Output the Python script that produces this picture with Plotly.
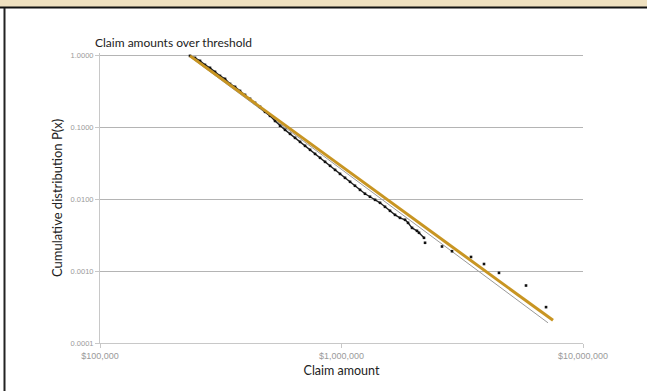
import plotly.graph_objects as go

# Claims above the threshold: amount and empirical cumulative share P(X >= x)
# Dense body of the distribution
body_amounts = [
    235900, 247400, 259500, 272100, 285400, 299400, 314000, 329400, 345500,
    362400, 380000, 398600, 418100, 438500, 459900, 482400, 505900, 530700,
    556600, 583800, 612300, 642200, 673600, 706500, 741000, 777200, 815200,
    855000, 896800, 940600, 985800, 1034000, 1085000, 1137000, 1193000,
    1251000, 1312000, 1377000, 1444000, 1514000, 1588000, 1666000, 1747000,
    1833000, 1886000, 1959000, 2054000, 2094000, 2196000,
]
body_p = [
    1.0, 0.938, 0.852, 0.749, 0.681, 0.599, 0.526, 0.478, 0.407, 0.370,
    0.325, 0.286, 0.252, 0.2215, 0.195, 0.166, 0.146, 0.124, 0.106, 0.0932,
    0.0820, 0.0721, 0.0634, 0.0558, 0.0491, 0.0431, 0.0380, 0.0334, 0.0294,
    0.0258, 0.0227, 0.0200, 0.0176, 0.0155, 0.0136, 0.0120, 0.0109, 0.00987,
    0.00897, 0.00789, 0.00694, 0.00610, 0.00554, 0.00520, 0.00472, 0.00402,
    0.00365, 0.00343, 0.00292,
]
# Largest individual claims
tail_amounts = [2218000, 2607000, 2868000, 3438000, 3891000, 4489000, 5808000, 7030000]
tail_p = [0.00249, 0.00221, 0.00190, 0.00158, 0.00126, 0.000948, 0.000632, 0.000316]

# Power-law fit lines (end points)
fit_x = [235900, 7513000]
fit_p = [1.0, 0.000207]
alt_fit_x = [235900, 7165000]
alt_fit_p = [0.97, 0.000191]

y_tick_vals = [0.0001, 0.001, 0.01, 0.1, 1.0]
y_tick_text = ["0.0001", "0.0010", "0.0100", "0.1000", "1.0000"]
x_tick_vals = [100000, 1000000, 10000000]
x_tick_text = ["$100,000", "$1,000,000", "$10,000,000"]

fig = go.Figure()
fig.add_trace(go.Scatter(
    x=alt_fit_x, y=alt_fit_p, mode="lines",
    line=dict(color="#9a9a9a", width=1), hoverinfo="skip",
))
fig.add_trace(go.Scatter(
    x=body_amounts, y=body_p, mode="lines+markers",
    line=dict(color="#222222", width=1.4),
    marker=dict(color="#111111", size=2.6, symbol="square"),
))
fig.add_trace(go.Scatter(
    x=tail_amounts, y=tail_p, mode="markers",
    marker=dict(color="#111111", size=2.6, symbol="square"),
))
fig.add_trace(go.Scatter(
    x=fit_x, y=fit_p, mode="lines",
    line=dict(color="#C89522", width=3), hoverinfo="skip",
))

W, H = 647, 391
ml, mr, mt, mb = 100, 64, 53, 48
pw, ph = W - ml - mr, H - mt - mb

def px(x):
    return (x - ml) / pw

def py(y):
    return (H - mb - y) / ph

fig.update_layout(
    width=W, height=H,
    margin=dict(l=ml, r=mr, t=mt, b=mb),
    paper_bgcolor="white", plot_bgcolor="white",
    showlegend=False,
    font=dict(family="Lato, sans-serif", color="#222222"),
    xaxis=dict(
        type="log", range=[5, 7],
        tickvals=x_tick_vals, ticktext=x_tick_text,
        tickfont=dict(family="Liberation Sans, Arial", size=9, color="#9a9a9a"),
        showgrid=False, zeroline=False,
        showline=True, linecolor="#c8c8c8", linewidth=1,
        ticks="outside", ticklen=4, tickcolor="#c8c8c8",
        title=dict(text="Claim amount", font=dict(size=12.5, color="#222222"), standoff=6),
    ),
    yaxis=dict(
        type="log", range=[-4, 0.04],
        tickvals=y_tick_vals, ticktext=y_tick_text,
        tickfont=dict(family="Liberation Sans, Arial", size=7.5, color="#9a9a9a"),
        showgrid=True, gridcolor="#b4b4b4", gridwidth=1.2,
        zeroline=False,
        showline=True, linecolor="#c8c8c8", linewidth=1,
        ticks="outside", ticklen=4, tickcolor="#c8c8c8",
        title=dict(text="Cumulative distribution P(x)", font=dict(size=13, color="#222222"), standoff=4),
    ),
    shapes=[
        # header band across the top
        dict(type="rect", xref="paper", yref="paper",
             x0=px(0), x1=px(W), y0=py(7), y1=py(-2),
             fillcolor="#EEE0BF", line=dict(width=0), layer="above"),
        dict(type="line", xref="paper", yref="paper",
             x0=px(0), x1=px(W), y0=py(7.5), y1=py(7.5),
             line=dict(color="#111111", width=2)),
        # left frame edge
        dict(type="line", xref="paper", yref="paper",
             x0=px(4.5), x1=px(4.5), y0=py(8), y1=py(H + 2),
             line=dict(color="#222222", width=2)),
    ],
    annotations=[
        dict(text="Claim amounts over threshold", xref="paper", yref="paper",
             x=px(93), y=py(43), xanchor="left", yanchor="middle",
             showarrow=False, font=dict(size=12, color="#222222")),
    ],
)

fig.write_html("out.html")
